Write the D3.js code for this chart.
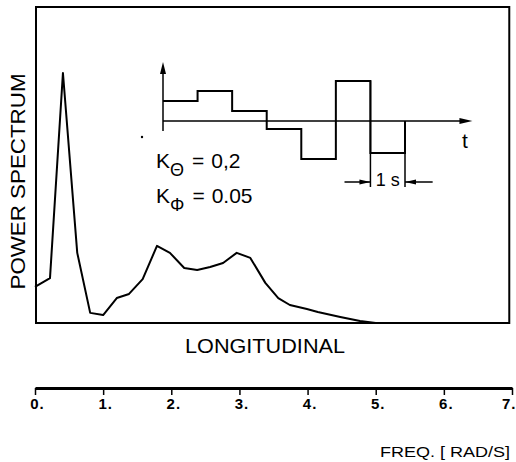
<!DOCTYPE html>
<html><head><meta charset="utf-8">
<script src="https://cdn.jsdelivr.net/npm/d3@7"></script>
<style>body{margin:0;background:#fff}svg{display:block}</style>
</head><body>
<svg id="c" width="516" height="462"></svg>
<script>
// Power spectrum curve (frequency in rad/s, power in arbitrary units 0..10)
const freq  = [0, 0.22, 0.41, 0.62, 0.81, 1.00, 1.20, 1.38, 1.58, 1.79, 1.98, 2.19, 2.38, 2.57, 2.76, 2.96, 3.16, 3.38, 3.57, 3.74, 3.99, 4.15, 4.48, 4.77, 5.00, 6.96];
const power = [1.14, 1.42, 7.91, 2.22, 0.32, 0.25, 0.79, 0.92, 1.39, 2.44, 2.22, 1.74, 1.68, 1.77, 1.90, 2.22, 2.06, 1.27, 0.79, 0.57, 0.44, 0.35, 0.19, 0.06, 0, 0];
const freqTicks = [0, 1, 2, 3, 4, 5, 6, 7];
// Inset: step input signal, one level per second
const stepTimes  = [0, 1, 2, 3, 4, 5, 6];
const stepLevels = [2, 3, 1, -0.8, -3.8, 4, -3.2];

const svg = d3.select("#c");
const FONT = "'Liberation Sans', Arial, sans-serif";

const x = d3.scaleLinear().domain([0, 7]).range([35, 512]);
const y = d3.scaleLinear().domain([0, 10]).range([323, 7]);

// frame
svg.append("rect")
  .attr("x", x(0) + 1).attr("y", y(10))
  .attr("width", x(6.96) - x(0) - 1).attr("height", y(0) - y(10))
  .attr("fill", "none").attr("stroke", "#000").attr("stroke-width", 2);

// spectrum curve
const line = d3.line().x(d => x(d[0])).y(d => y(d[1]));
svg.append("path")
  .datum(d3.zip(freq, power))
  .attr("d", line)
  .attr("fill", "none").attr("stroke", "#000").attr("stroke-width", 2)
  .attr("stroke-linejoin", "round");

// Y label
svg.append("text")
  .attr("transform", `translate(25,${(73 + 290) / 2}) rotate(-90)`)
  .attr("text-anchor", "middle")
  .attr("font-family", FONT).attr("font-size", 20)
  .attr("textLength", 216).attr("lengthAdjust", "spacingAndGlyphs")
  .text("POWER  SPECTRUM");

// bottom label
svg.append("text")
  .attr("x", 265).attr("y", 353)
  .attr("text-anchor", "middle")
  .attr("font-family", FONT).attr("font-size", 20)
  .attr("textLength", 160).attr("lengthAdjust", "spacingAndGlyphs")
  .text("LONGITUDINAL");

// separate frequency axis
const axisY = 388;
const axis = d3.axisBottom(x).tickValues(freqTicks).tickSize(7).tickSizeOuter(0)
  .tickFormat(d => d + ".");
const gA = svg.append("g").attr("transform", `translate(0,${axisY})`).call(axis);
gA.select(".domain").attr("stroke", "#000").attr("stroke-width", 3);
gA.selectAll(".tick line").attr("stroke", "#000").attr("stroke-width", 1.5);
gA.selectAll(".tick text")
  .attr("y", 21).attr("dy", 0).attr("fill", "#000")
  .attr("font-family", FONT).attr("font-size", 15).attr("font-weight", "bold")
  .attr("letter-spacing", 1)
  .attr("text-anchor", d => d === 7 ? "end" : "middle")
  .attr("x", d => d === 7 ? 4 : 2);

svg.append("text")
  .attr("x", 510).attr("y", 457).attr("text-anchor", "end")
  .attr("font-family", FONT).attr("font-size", 15)
  .attr("textLength", 130).attr("lengthAdjust", "spacingAndGlyphs")
  .text("FREQ. [ RAD/S]");

// ---- inset step signal ----
const tx = d3.scaleLinear().domain([0, 7]).range([163, 405]);
const ty = d3.scaleLinear().domain([0, 4]).range([121, 81]);

// axes
svg.append("line").attr("x1", tx(0)).attr("x2", tx(0)).attr("y1", ty(-1)).attr("y2", ty(5.4))
  .attr("stroke", "#000").attr("stroke-width", 1.5);
svg.append("path")
  .attr("d", `M${tx(0)},${ty(5.9)} L${tx(0) - 3},${ty(5.9) + 12} L${tx(0) + 3},${ty(5.9) + 12} Z`)
  .attr("fill", "#000");
svg.append("line").attr("x1", tx(0)).attr("x2", tx(8.6)).attr("y1", ty(0)).attr("y2", ty(0))
  .attr("stroke", "#000").attr("stroke-width", 1.5);
svg.append("path")
  .attr("d", `M${tx(8.95)},${ty(0)} L${tx(8.95) - 13},${ty(0) - 3} L${tx(8.95) - 13},${ty(0) + 3} Z`)
  .attr("fill", "#000");
svg.append("text").attr("x", tx(8.65)).attr("y", 148)
  .attr("font-family", FONT).attr("font-size", 21).text("t");

// step path
const stepLine = d3.line().x(d => tx(d[0])).y(d => ty(d[1])).curve(d3.curveStepAfter);
svg.append("path")
  .datum(stepTimes.map((t, i) => [t, stepLevels[i]]).concat([[7, stepLevels[stepLevels.length - 1]]]))
  .attr("d", d => stepLine(d) + `L${tx(7)},${ty(0)}`)
  .attr("fill", "none").attr("stroke", "#000").attr("stroke-width", 2);

// 1 s dimension
const dimY = ty(-6.1);
svg.append("line").attr("x1", tx(6)).attr("x2", tx(6)).attr("y1", ty(4)).attr("y2", ty(-6.6))
  .attr("stroke", "#000").attr("stroke-width", 1.5);
svg.append("line").attr("x1", tx(7)).attr("x2", tx(7)).attr("y1", ty(0)).attr("y2", ty(-6.6))
  .attr("stroke", "#000").attr("stroke-width", 1.5);
svg.append("line").attr("x1", tx(5.25)).attr("x2", tx(6)).attr("y1", dimY).attr("y2", dimY)
  .attr("stroke", "#000").attr("stroke-width", 1.5);
svg.append("path").attr("d", `M${tx(6)},${dimY} L${tx(6) - 11},${dimY - 2.5} L${tx(6) - 11},${dimY + 2.5} Z`).attr("fill", "#000");
svg.append("line").attr("x1", tx(7)).attr("x2", tx(7.8)).attr("y1", dimY).attr("y2", dimY)
  .attr("stroke", "#000").attr("stroke-width", 1.5);
svg.append("path").attr("d", `M${tx(7)},${dimY} L${tx(7) + 11},${dimY - 2.5} L${tx(7) + 11},${dimY + 2.5} Z`).attr("fill", "#000");
svg.append("text").attr("x", tx(6.5)).attr("y", 186).attr("text-anchor", "middle")
  .attr("font-family", FONT).attr("font-size", 18).text("1 s");

// dot
svg.append("circle").attr("cx", 142).attr("cy", 137).attr("r", 1.2).attr("fill", "#000");

// gains
function gain(yb, sub, val) {
  const t = svg.append("text").attr("x", 156).attr("y", yb)
    .attr("font-family", FONT).attr("font-size", 21);
  t.append("tspan").text("K");
  t.append("tspan").attr("dy", 8).attr("font-size", 18).text(sub);
  t.append("tspan").attr("dy", -8).attr("dx", 8).text("=");
  t.append("tspan").attr("dx", 7).text(val);
}
gain(168, "Θ", "0,2");
gain(203, "Φ", "0.05");
</script>
</body></html>
